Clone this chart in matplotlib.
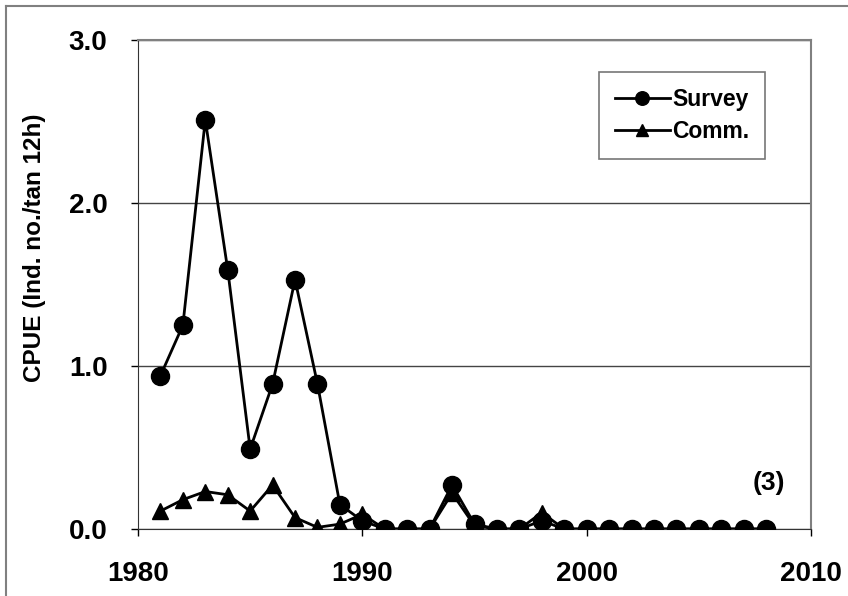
# -*- coding: utf-8 -*-
import numpy as np
import matplotlib
matplotlib.use("Agg")
import matplotlib.pyplot as plt
from matplotlib.lines import Line2D

plt.rcParams["font.family"] = ["Liberation Sans", "DejaVu Sans"]
plt.rcParams["font.weight"] = "bold"

# Datos
anios = list(range(1981, 2009))
survey = [0.94, 1.25, 2.51, 1.59, 0.49, 0.89, 1.53, 0.89, 0.15, 0.05,
          0.0, 0.0, 0.0, 0.27, 0.03, 0.0, 0.0, 0.05, 0.0, 0.0,
          0.0, 0.0, 0.0, 0.0, 0.0, 0.0, 0.0, 0.0]
comm = [0.11, 0.18, 0.23, 0.21, 0.11, 0.27, 0.07, 0.01, 0.03, 0.09,
        0.0, 0.0, 0.0, 0.22, 0.02, 0.0, 0.0, 0.10, 0.0, 0.0,
        0.0, 0.0, 0.0, 0.0, 0.0, 0.0, 0.0, 0.0]
xticks = [1980, 1990, 2000, 2010]
yticks = [0.0, 1.0, 2.0, 3.0]

fig = plt.figure(figsize=(8.48, 5.96), dpi=100)
ax = fig.add_axes([138 / 848, 1 - 529 / 596, (811 - 138) / 848, (529 - 40) / 596])

# Marco exterior (solo visible arriba e izquierda)
fig.add_artist(Line2D([6 / 848, 6 / 848], [0, 1 - 6 / 596], transform=fig.transFigure, color="#808080", lw=1.5))
fig.add_artist(Line2D([6 / 848, 1], [1 - 6 / 596, 1 - 6 / 596], transform=fig.transFigure, color="#808080", lw=1.5))

ax.plot(anios, comm, color="black", lw=2.0, marker="^", markersize=11, label="Comm.", zorder=3)
ax.plot(anios, survey, color="black", lw=2.0, marker="o", markersize=13, label="Survey", zorder=4)

ax.set_xlim(1980, 2010)
ax.set_ylim(0, 3.0)
ax.set_xticks(xticks)
ax.set_yticks(yticks)
ax.set_yticklabels([f"{v:.1f}" for v in yticks])
ax.tick_params(axis="both", direction="out", length=5, width=1, labelsize=20)
ax.tick_params(axis="y", pad=17)
ax.tick_params(axis="x", pad=18)
ax.yaxis.grid(True, color="#444444", lw=1)
ax.set_axisbelow(True)
for lado in ["top", "right"]:
    ax.spines[lado].set_color("#808080")
    ax.spines[lado].set_linewidth(1.5)
ax.spines["left"].set_color("#333333")
ax.spines["bottom"].set_color("#333333")

ax.set_ylabel("CPUE (Ind. no./tan 12h)", fontsize=17.5, fontweight="bold")
ax.yaxis.set_label_coords(-0.136, 0.575)

handles, labels = ax.get_legend_handles_labels()
leg = ax.legend(handles[::-1], labels[::-1], loc="upper right", bbox_to_anchor=(0.932, 0.935),
                prop={"size": 16.5, "weight": "bold"}, fancybox=False, edgecolor="#555555",
                handlelength=2.4, handletextpad=0.1, borderpad=0.7, labelspacing=0.42,
                borderaxespad=0, markerscale=0.75)
leg.get_frame().set_linewidth(1.2)

ax.text(2008.1, 0.28, "(3)", fontsize=19, fontweight="bold", ha="center", va="center")

fig.savefig("out.png", dpi=100)
